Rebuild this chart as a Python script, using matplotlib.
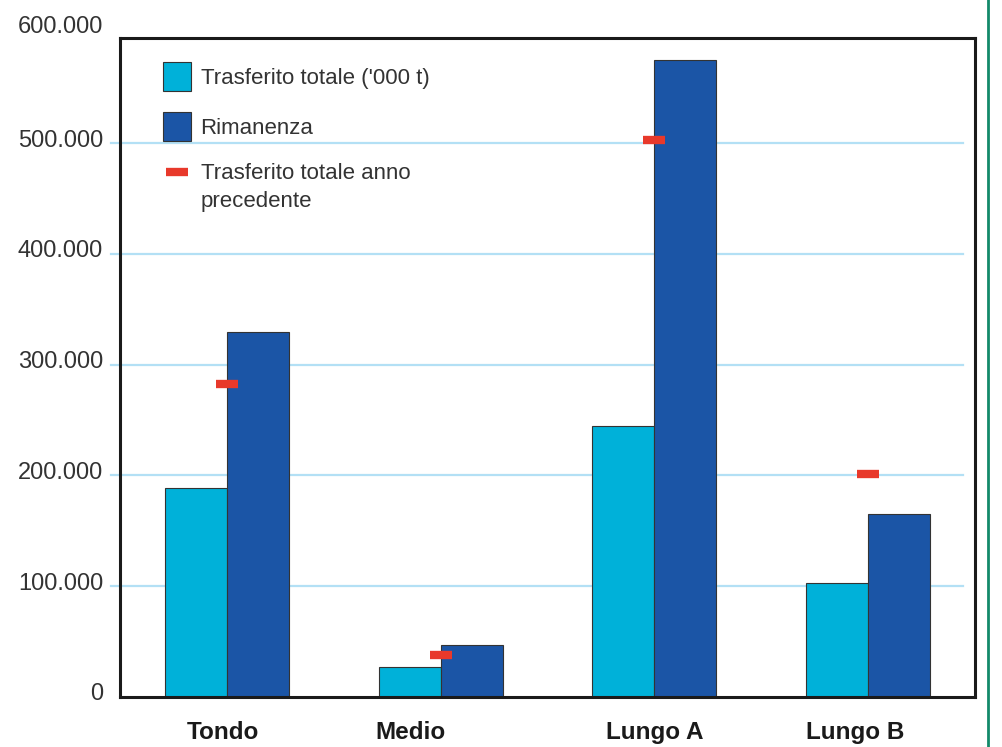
import numpy as np
import matplotlib
matplotlib.use("Agg")
from matplotlib import pyplot as plt
from matplotlib.patches import Patch
from matplotlib.lines import Line2D
import matplotlib.transforms as mtransforms

categories = ["Tondo", "Medio", "Lungo A", "Lungo B"]
trasferito = [188500, 27000, 244500, 102500]
rimanenza = [330000, 46500, 575000, 165000]
anno_prec = [283000, 38000, 503000, 201000]
yticks = [0, 100000, 200000, 300000, 400000, 500000]

cyan = "#00b1d9"
dark = "#1b55a6"
red = "#e8392b"
grid = "#b3e0f5"

plt.rcParams['font.family'] = ['Liberation Sans', 'DejaVu Sans']

fig = plt.figure(figsize=(10.03, 7.47), dpi=100)
ax = fig.add_axes([120 / 1003, 1 - 697 / 747, 855 / 1003, 659 / 747])

x = np.arange(len(categories))
w = 0.29
ax.bar(x - w / 2, trasferito, w, color=cyan, edgecolor="#333333", linewidth=0.8, zorder=2)
ax.bar(x + w / 2, rimanenza, w, color=dark, edgecolor="#333333", linewidth=0.8, zorder=2)
ax.plot(x, anno_prec, linestyle="none", marker="_", markersize=16.5, markeredgewidth=6,
        color=red, zorder=3)

for y in yticks[1:]:
    ax.axhline(y, xmin=-0.011, xmax=0.986, color=grid, linewidth=1.6, zorder=0, clip_on=False)

ax.set_xlim(-0.5, 3.5)
ax.set_ylim(0, 595000)
ax.set_yticks(yticks)
ax.set_yticklabels([f"{v:,}".replace(",", ".") for v in yticks])
ax.tick_params(axis="y", length=0, pad=12.2, labelsize=17, labelcolor="#333333")
off = mtransforms.ScaledTranslation(0, 5 / 100, fig.dpi_scale_trans)
for lab in ax.get_yticklabels():
    lab.set_transform(lab.get_transform() + off)
# top label sits above the frame, so it is not a regular tick
t600 = ax.text(-0.5, 600000, "600.000", ha="right", va="center", fontsize=17,
               color="#333333", clip_on=False)
t600.set_transform(ax.transData + mtransforms.ScaledTranslation(-17 / 100, 5 / 100, fig.dpi_scale_trans))

# category labels sit a bit off the group centres
label_shift = [-0.02, -0.14, 0.0, -0.06]
ax.set_xticks(x + np.array(label_shift))
ax.set_xticklabels(categories, fontsize=17.5, fontweight="bold", color="#1a1a1a")
ax.tick_params(axis="x", length=0, pad=17)

for s in ax.spines.values():
    s.set_linewidth(2.2)
    s.set_color("#1a1a1a")

handles = [
    Patch(facecolor=cyan, edgecolor="#333333", linewidth=0.8),
    Patch(facecolor=dark, edgecolor="#333333", linewidth=0.8),
    Line2D([], [], linestyle="none", marker="_", markersize=16.5, markeredgewidth=6, color=red),
]
labels = ["Trasferito totale ('000 t)", "Rimanenza", "Trasferito totale anno\nprecedente"]
leg = ax.legend(handles, labels, loc="upper left", bbox_to_anchor=(0.05, 0.964), frameon=False,
                fontsize=16, handlelength=1.25, handleheight=1.65, handletextpad=0.45,
                labelspacing=0.95, borderpad=0, borderaxespad=0, labelcolor="#333333")
for t in leg.get_texts():
    t.set_linespacing(1.45)
# red dash lines up with the first line of its two-line label
h = leg.legend_handles[2]
h.set_transform(h.get_transform() + mtransforms.ScaledTranslation(0, 12 / 100, fig.dpi_scale_trans))

fig.add_artist(Line2D([988 / 1003, 988 / 1003], [0, 1], color="#138a6a", linewidth=2))

fig.savefig("out.png", dpi=100)
